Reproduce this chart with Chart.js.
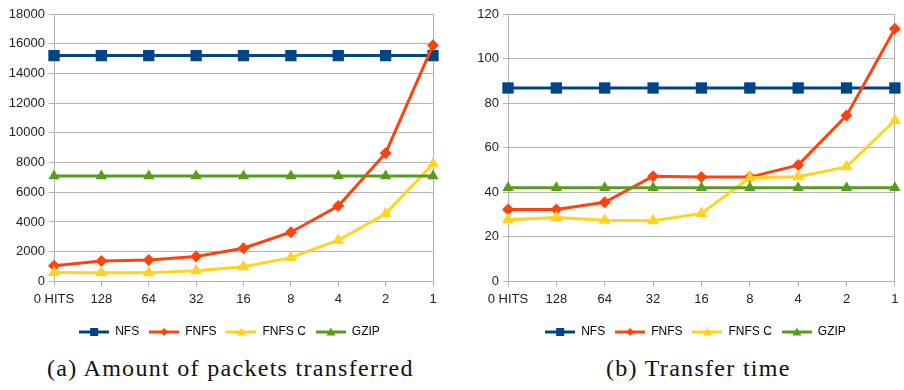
<!DOCTYPE html>
<html>
<head>
<meta charset="utf-8">
<script src="https://cdn.jsdelivr.net/npm/chart.js@4/dist/chart.umd.min.js"></script>
<style>
  html, body { margin: 0; padding: 0; background: #fff; }
  body { width: 904px; height: 390px; position: relative; overflow: hidden; }
  .box { position: absolute; top: 0; height: 348px; }
  .cap { position: absolute; top: 355px; font-family: "Liberation Serif", serif; font-size: 24px; letter-spacing: 1.3px; color: #111; white-space: nowrap; }
</style>
</head>
<body>
<div class="box" style="left:0;width:450px;"><canvas id="c1"></canvas></div>
<div class="box" style="left:450px;width:454px;"><canvas id="c2"></canvas></div>
<div class="cap" id="capA" style="left:47px;">(a) Amount of packets transferred</div>
<div class="cap" id="capB" style="left:606px;">(b) Transfer time</div>
<script>
const categories = ["0 HITS", "128", "64", "32", "16", "8", "4", "2", "1"];
const seriesNames = ["NFS", "FNFS", "FNFS C", "GZIP"];

// (a) Amount of packets transferred
const packetsNFS   = [15200, 15200, 15200, 15200, 15200, 15200, 15200, 15200, 15200];
const packetsFNFS  = [1060, 1370, 1440, 1670, 2230, 3310, 5070, 8630, 15900];
const packetsFNFSC = [600, 590, 590, 720, 990, 1600, 2770, 4550, 7900];
const packetsGZIP  = [7100, 7100, 7100, 7100, 7100, 7100, 7100, 7100, 7100];

// (b) Transfer time
const timeNFS   = [86.8, 86.8, 86.8, 86.8, 86.8, 86.8, 86.8, 86.8, 86.8];
const timeFNFS  = [32.3, 32.3, 35.5, 47.2, 46.9, 46.8, 52.2, 74.4, 113.4];
const timeFNFSC = [27.7, 28.7, 27.4, 27.2, 30.5, 46.5, 47.0, 51.4, 72.2];
const timeGZIP  = [42, 42, 42, 42, 42, 42, 42, 42, 42];

const colors = ["#004586", "#ff420e", "#ffd320", "#579d1c"];
const styles = ["rect", "rectRot", "triangle", "triangle"];
const radii  = [8, 6, 7, 6.5];

function legendIcon(i) {
  const c = document.createElement("canvas");
  c.width = 30; c.height = 12;
  const ctx = c.getContext("2d");
  ctx.strokeStyle = colors[i];
  ctx.fillStyle = colors[i];
  ctx.lineWidth = 3;
  ctx.beginPath(); ctx.moveTo(0, 6); ctx.lineTo(30, 6); ctx.stroke();
  ctx.beginPath();
  if (i === 0) { ctx.rect(11, 2, 8, 8); }
  else if (i === 1) { ctx.moveTo(15, 2); ctx.lineTo(19, 6); ctx.lineTo(15, 10); ctx.lineTo(11, 6); ctx.closePath(); }
  else { ctx.moveTo(15, 1.5); ctx.lineTo(19.5, 9.5); ctx.lineTo(10.5, 9.5); ctx.closePath(); }
  ctx.fill();
  return c;
}
const icons = [0, 1, 2, 3].map(legendIcon);

function makeDatasets(arrs) {
  return arrs.map((d, i) => ({
    label: seriesNames[i],
    data: d,
    borderColor: colors[i],
    backgroundColor: colors[i],
    borderWidth: 3,
    pointStyle: styles[i],
    pointRadius: radii[i],
    pointHoverRadius: radii[i],
    pointBorderWidth: 0,
    pointBackgroundColor: colors[i],
    tension: 0,
    clip: false,
    order: 4 - i
  }));
}

const shiftLegend = {
  id: "shiftLegend",
  afterLayout(chart, args, opts) {
    const lg = chart.legend;
    if (lg) { lg.left += opts.dx; lg.right += opts.dx; }
  }
};

function makeChart(id, arrs, max, step, yWidth, padRight, dx) {
  const font = { family: "'Liberation Sans', Arial, sans-serif", size: 13 };
  return new Chart(document.getElementById(id), {
    type: "line",
    data: { labels: categories, datasets: makeDatasets(arrs) },
    plugins: [shiftLegend],
    options: {
      responsive: true,
      maintainAspectRatio: false,
      animation: false,
      events: [],
      layout: { padding: { top: 14, right: padRight, left: 0, bottom: 0 } },
      plugins: {
        shiftLegend: { dx: dx },
        tooltip: { enabled: false },
        legend: {
          position: "bottom",
          labels: {
            usePointStyle: true,
            pointStyleWidth: 30,
            padding: 10,
            color: "#222",
            font: { family: "'Liberation Sans', Arial, sans-serif", size: 12 },
            sort: (a, b) => a.datasetIndex - b.datasetIndex,
            generateLabels: (chart) => chart.data.datasets.map((ds, i) => ({
              text: ds.label,
              datasetIndex: i,
              pointStyle: icons[i],
              fillStyle: colors[i],
              strokeStyle: colors[i],
              lineWidth: 0,
              hidden: false
            }))
          }
        }
      },
      scales: {
        x: {
          offset: false,
          grid: {
            color: (ctx) => (ctx.index === 0 || ctx.index === categories.length - 1) ? "#b3b3b3" : "rgba(0,0,0,0)",
            tickColor: "#b3b3b3",
            tickLength: 5,
            lineWidth: 1
          },
          border: { display: true, color: "#b3b3b3" },
          ticks: { color: "#222", font: font, padding: 5.5, maxRotation: 0, autoSkip: false },
          afterFit: (s) => { s.height += 3; }
        },
        y: {
          min: 0, max: max,
          grid: { color: "#b3b3b3", tickColor: "#b3b3b3", tickLength: 5 },
          border: { display: true, color: "#b3b3b3" },
          ticks: { stepSize: step, color: "#222", font: font, padding: 4, callback: (v) => String(v) },
          afterFit: (s) => { s.width = yWidth; }
        }
      }
    }
  });
}

makeChart("c1", [packetsNFS, packetsFNFS, packetsFNFSC, packetsGZIP], 18000, 2000, 54, 17, 13);
makeChart("c2", [timeNFS, timeFNFS, timeFNFSC, timeGZIP], 120, 20, 58, 5, 21);
</script>
</body>
</html>
